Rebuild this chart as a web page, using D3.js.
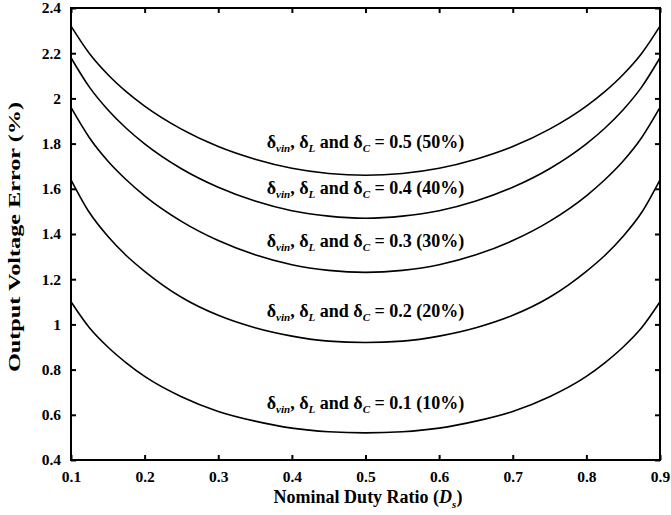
<!DOCTYPE html>
<html><head><meta charset="utf-8">
<script src="https://cdn.jsdelivr.net/npm/d3@7"></script>
<style>body{margin:0;background:#fff;} text{font-family:"Liberation Serif","Times New Roman",serif;font-weight:bold;fill:#000;}</style>
</head><body><svg id="c" width="671" height="515"></svg>
<script>
const dutyRatio = [0.1, 0.125, 0.15, 0.175, 0.2, 0.25, 0.3, 0.35, 0.4, 0.45, 0.5, 0.55, 0.6, 0.65, 0.7, 0.75, 0.8, 0.825, 0.85, 0.875, 0.9];
const err50 = [2.32, 2.199, 2.106, 2.030, 1.966, 1.864, 1.787, 1.731, 1.691, 1.668, 1.66, 1.668, 1.691, 1.731, 1.787, 1.864, 1.966, 2.030, 2.106, 2.199, 2.32];
const err40 = [2.18, 2.050, 1.950, 1.868, 1.799, 1.689, 1.607, 1.546, 1.503, 1.479, 1.47, 1.479, 1.503, 1.546, 1.607, 1.689, 1.799, 1.868, 1.950, 2.050, 2.18];
const err30 = [1.96, 1.826, 1.723, 1.640, 1.569, 1.456, 1.371, 1.308, 1.264, 1.239, 1.23, 1.239, 1.264, 1.308, 1.371, 1.456, 1.569, 1.640, 1.723, 1.826, 1.96];
const err20 = [1.64, 1.495, 1.39, 1.305, 1.235, 1.12, 1.04, 0.985, 0.948, 0.926, 0.92, 0.926, 0.948, 0.985, 1.04, 1.12, 1.235, 1.305, 1.39, 1.495, 1.64];
const err10 = [1.10, 0.985, 0.90, 0.83, 0.77, 0.68, 0.615, 0.572, 0.541, 0.525, 0.52, 0.525, 0.541, 0.572, 0.615, 0.68, 0.77, 0.83, 0.90, 0.985, 1.10];
const seriesValues = [err50, err40, err30, err20, err10];
const seriesLabels = ["0.5 (50%)", "0.4 (40%)", "0.3 (30%)", "0.2 (20%)", "0.1 (10%)"];
const labelY = [1.80, 1.595, 1.36, 1.05, 0.643];
const xTicks = [0.1, 0.2, 0.3, 0.4, 0.5, 0.6, 0.7, 0.8, 0.9];
const yTicks = [0.4, 0.6, 0.8, 1, 1.2, 1.4, 1.6, 1.8, 2, 2.2, 2.4];

const svg = d3.select("#c");
const L = 71, R = 660, T = 8, B = 460;
const x = d3.scaleLinear().domain([0.1, 0.9]).range([L, R]);
const y = d3.scaleLinear().domain([0.4, 2.4]).range([B, T]);
const fmt = d => String(+d.toFixed(1));

svg.append("rect").attr("x", L).attr("y", T).attr("width", R - L).attr("height", B - T)
  .attr("fill", "none").attr("stroke", "#000").attr("stroke-width", 2);

const ax = svg.append("g").attr("transform", `translate(0,${B})`)
  .call(d3.axisBottom(x).tickValues(xTicks).tickSize(-5).tickPadding(11).tickFormat(fmt));
const axT = svg.append("g").attr("transform", `translate(0,${T})`)
  .call(d3.axisTop(x).tickValues(xTicks).tickSize(-5).tickFormat(""));
const ay = svg.append("g").attr("transform", `translate(${L},0)`)
  .call(d3.axisLeft(y).tickValues(yTicks).tickSize(-5).tickPadding(10).tickFormat(fmt));
const ayR = svg.append("g").attr("transform", `translate(${R},0)`)
  .call(d3.axisRight(y).tickValues(yTicks).tickSize(-5).tickFormat(""));
[ax, axT, ay, ayR].forEach(g => {
  g.select(".domain").remove();
  g.selectAll(".tick line").attr("stroke", "#000").attr("stroke-width", 2);
  g.selectAll("text").style("font-size", "15.5px").style("font-family", "Liberation Serif").style("font-weight", "bold");
});

const line = d3.line().x((d, i) => x(dutyRatio[i])).y(d => y(d)).curve(d3.curveMonotoneX);
seriesValues.forEach(vals => {
  svg.append("path").datum(vals).attr("d", line).attr("fill", "none")
    .attr("stroke", "#000").attr("stroke-width", 1.6);
});

seriesLabels.forEach((lab, i) => {
  const t = svg.append("text").attr("x", x(0.5)).attr("y", y(labelY[i]))
    .attr("text-anchor", "middle").attr("dominant-baseline", "middle").style("font-size", "18px");
  t.append("tspan").text("δ");
  t.append("tspan").text("vin").attr("dy", 5).style("font-size", "11px").style("font-style", "italic");
  t.append("tspan").text(", δ").attr("dy", -5);
  t.append("tspan").text("L").attr("dy", 5).style("font-size", "11px").style("font-style", "italic");
  t.append("tspan").text(" and δ").attr("dy", -5);
  t.append("tspan").text("C").attr("dy", 5).style("font-size", "11px").style("font-style", "italic");
  t.append("tspan").text(" = " + lab).attr("dy", -5);
});

const xt = svg.append("text").attr("x", 368).attr("y", 503).attr("text-anchor", "middle").style("font-size", "18px");
xt.append("tspan").text("Nominal Duty Ratio (");
xt.append("tspan").text("D").style("font-style", "italic");
xt.append("tspan").text("s").attr("dy", 5).style("font-size", "11px").style("font-style", "italic");
xt.append("tspan").text(")").attr("dy", -5);

svg.append("text").attr("transform", `translate(20,237) rotate(-90)`)
  .attr("text-anchor", "middle").style("font-size", "17px")
  .attr("textLength", 270).attr("lengthAdjust", "spacingAndGlyphs")
  .text("Output Voltage Error (%)");
</script></body></html>
